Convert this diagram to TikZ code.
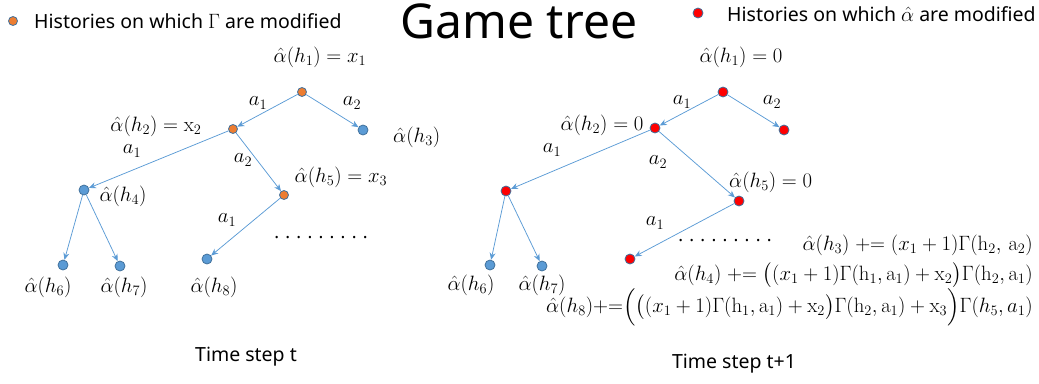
\documentclass[tikz,border=0pt]{standalone}
\usepackage{amsmath}
\usepackage[no-math]{fontspec}
\setmainfont{Noto Sans}
\usetikzlibrary{positioning,arrows.meta}
\definecolor{HistBlue}{HTML}{5B9BD5}
\definecolor{HistRim}{HTML}{41719C}
\definecolor{GamOrange}{HTML}{ED7D31}
\definecolor{AlpRed}{HTML}{FF0000}
\newcommand{\ah}[1]{\hat{\alpha}(h_{#1})}
\newcommand{\Gm}[2]{\Gamma(\mathrm{h}_{#1},\mathrm{a}_{#2})}
\newcommand{\pe}{\mathrel{{+}{=}}}
\tikzset{
  hist/.style={circle, draw=HistRim, line width=0.8pt, fill=HistBlue,
               minimum size=10pt, inner sep=0pt},
  histgam/.style={hist, fill=GamOrange, minimum size=9pt},
  histalp/.style={hist, fill=AlpRed},
  move/.style={-{Stealth[length=7pt,width=6pt]}, HistBlue, line width=0.75pt},
  lbl/.style={inner sep=1pt, font=\fontsize{21}{25}\selectfont},
  txt/.style={inner sep=1pt, font=\fontsize{19.5}{22}\selectfont},
  dotrow/.style={inner sep=0pt, font=\fontsize{18}{22}\selectfont\bfseries},
}

\begin{document}
\begin{tikzpicture}[x=1pt,y=-1pt]
  \useasboundingbox (0,0) rectangle (1039,383);

  % title and legend
  \node[font=\fontsize{48}{52}\selectfont] (title) at (519,21) {Game tree};
  \node[histgam] (keygam) at (13,21) {};
  \node[txt, anchor=west] (keygamtxt) at (33,21) {Histories on which $\Gamma$ are modified};
  \node[histalp] (keyalp) at (698,13) {};
  \node[txt, anchor=west] (keyalptxt) at (726,14) {Histories on which $\hat{\alpha}$ are modified};

  % time step t
  \node[histgam] (l1) at (302,92) {};
  \node[histgam] (l2) at (233,129) {};
  \node[hist]    (l3) at (363,130) {};
  \node[hist]    (l4) at (84,190) {};
  \node[histgam] (l5) at (284,195) {};
  \node[hist]    (l6) at (63,265) {};
  \node[hist]    (l7) at (120,266) {};
  \node[hist]    (l8) at (207,259) {};

  \draw[move] (l1) -- (l2);
  \draw[move] (l1) -- (l3);
  \draw[move] (l2) -- (l4);
  \draw[move] (l2) -- (l5);
  \draw[move] (l4) -- (l6);
  \draw[move] (l4) -- (l7);
  \draw[move] (l5) -- (l8);

  \node[lbl] (l1v) at (320,57) {$\ah{1} = x_1$};
  \node[lbl] (l2v) at (156,126) {$\ah{2} = \mathrm{x}_2$};
  \node[lbl, anchor=west] (l3v) at (392,137) {$\ah{3}$};
  \node[lbl] (l4v) at (123,196) {$\ah{4}$};
  \node[lbl] (l5v) at (341,177) {$\ah{5} = x_3$};
  \node[lbl] (l6v) at (48,287) {$\ah{6}$};
  \node[lbl] (l7v) at (124,287) {$\ah{7}$};
  \node[lbl] (l8v) at (214,287) {$\ah{8}$};
  \node[lbl] (l12) at (258,103) {$a_1$};
  \node[lbl] (l13) at (352,103) {$a_2$};
  \node[lbl] (l24) at (132,151) {$a_1$};
  \node[lbl] (l25) at (243,160) {$a_2$};
  \node[lbl] (l58) at (227,220) {$a_1$};
  \node[dotrow] (ldots) at (321,238) {. . . . . . . . .};
  \node[txt] (steplft) at (246,357) {Time step t};

  % time step t+1
  \node[histalp] (r1) at (723,92) {};
  \node[histalp] (r2) at (655,128) {};
  \node[histalp] (r3) at (784,130) {};
  \node[histalp] (r4) at (506,191) {};
  \node[histalp] (r5) at (739,201) {};
  \node[hist]    (r6) at (490,265) {};
  \node[hist]    (r7) at (542,266) {};
  \node[histalp] (r8) at (630,259) {};

  \draw[move] (r1) -- (r2);
  \draw[move] (r1) -- (r3);
  \draw[move] (r2) -- (r4);
  \draw[move] (r2) -- (r5);
  \draw[move] (r4) -- (r6);
  \draw[move] (r4) -- (r7);
  \draw[move] (r5) -- (r8);

  \node[lbl] (r1v) at (741,57) {$\ah{1} = 0$};
  \node[lbl] (r2v) at (602,125) {$\ah{2} = 0$};
  \node[lbl, anchor=west] (r5v) at (728,182) {$\ah{5} = 0$};
  \node[lbl] (r6v) at (471,285) {$\ah{6}$};
  \node[lbl] (r7v) at (542,285) {$\ah{7}$};
  \node[lbl] (r12) at (682,102) {$a_1$};
  \node[lbl] (r13) at (772,102) {$a_2$};
  \node[lbl] (r24) at (552,150) {$a_1$};
  \node[lbl] (r25) at (658,162) {$a_2$};
  \node[lbl] (r58) at (655,223) {$a_1$};
  \node[dotrow] (rdots) at (725,241) {. . . . . . . . .};
  \node[lbl, anchor=east] (r3f) at (1034,245)
    {$\ah{3} \pe (x_1+1)\Gamma(\mathrm{h}_2,\,\mathrm{a}_2)$};
  \node[lbl, anchor=east] (r4f) at (1034,275)
    {$\ah{4} \pe \big((x_1+1)\Gm{1}{1}+\mathrm{x}_2\big)\Gm{2}{1}$};
  \node[lbl, anchor=east] (r8f) at (1034,307)
    {$\ah{8}{+}{=}\Big(\big((x_1+1)\Gm{1}{1}+\mathrm{x}_2\big)\Gm{2}{1}+\mathrm{x}_3\Big)\Gamma(h_5,a_1)$};
  \node[txt] (steprgt) at (734,364) {Time step t+1};
\end{tikzpicture}
\end{document}
